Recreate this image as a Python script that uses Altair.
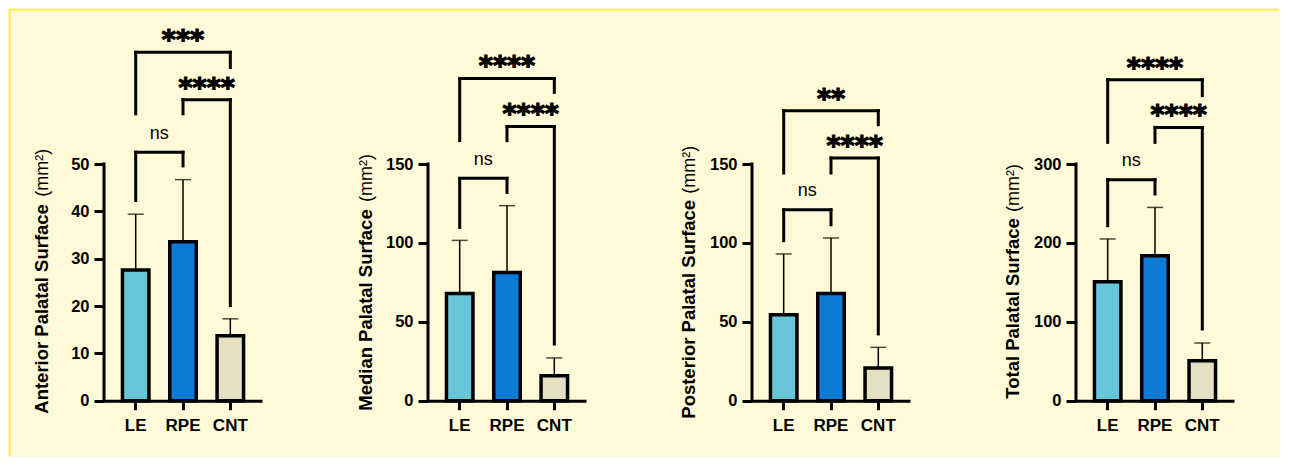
import altair as alt
import pandas as pd

# ---------------- data ----------------
groups = ["LE", "RPE", "CNT"]
bar_colors = ["#67C6D8", "#0E7BD6", "#E5E0C3"]

titles = ["Anterior Palatal Surface", "Median Palatal Surface",
          "Posterior Palatal Surface", "Total Palatal Surface"]
unit_text = "(mm²)"

axis_max = [50, 150, 150, 300]
tick_step = [10, 50, 50, 100]
plot_max = [80, 240, 240, 480]

anterior_mean = [27.6, 33.6, 13.7]
anterior_top = [39.4, 46.7, 17.3]
median_mean = [68.0, 81.3, 15.8]
median_top = [101.6, 123.6, 27.1]
posterior_mean = [54.5, 68.0, 20.7]
posterior_top = [93.0, 103.1, 33.8]
total_mean = [150.8, 183.8, 50.7]
total_top = [205.0, 245.0, 73.1]

pairs = [("LE", "RPE"), ("LE", "CNT"), ("RPE", "CNT")]

anterior_labels = ["ns", "***", "****"]
anterior_bracket = [52.5, 73.6, 63.6]
anterior_leg1 = [42.3, 60.6, 60.6]
anterior_leg2 = [49.6, 70.4, 20.1]

median_labels = ["ns", "****", "****"]
median_bracket = [140.9, 204.2, 173.8]
median_leg1 = [109.8, 164.8, 164.8]
median_leg2 = [132.0, 195.4, 35.9]

posterior_labels = ["ns", "**", "****"]
posterior_bracket = [121.0, 183.8, 153.8]
posterior_leg1 = [101.4, 144.3, 144.3]
posterior_leg2 = [111.5, 174.9, 42.3]

total_labels = ["ns", "****", "****"]
total_bracket = [280.1, 406.8, 346.4]
total_leg1 = [221.8, 327.4, 327.4]
total_leg2 = [262.0, 386.6, 90.9]

# ---------------- layout / style ----------------
FONT = "Liberation Sans"
STAR_FONT = "DejaVu Sans"
BG = "#FFF9D8"
BORDER = "#FFEC4A"
W = 158
H = 378.7
HALF_STEP = 23.65
title_bottom = [391.7, 388.7, 396.7, 376.7]
unit_top = [126.7, 132.0, 123.7, 142.0]


def make_panel(idx, means, tops, labels, bracket, leg1, leg2, border=False):
    yscale = alt.Scale(domain=[0, plot_max[idx]], nice=False, zero=True)
    xscale = alt.Scale(domain=groups, paddingInner=0, paddingOuter=0.17)
    xaxis = alt.Axis(title=None, labelAngle=0, labelFont=FONT, labelFontWeight="bold",
                     labelFontSize=17, labelColor="black", labelPadding=8,
                     domainColor="black", domainWidth=3, tickColor="black",
                     tickWidth=3, tickSize=9, grid=False)
    yaxis = alt.Axis(title=None, values=list(range(0, axis_max[idx] + 1, tick_step[idx])),
                     domain=False, grid=False, tickColor="black", tickWidth=3, tickSize=10,
                     labelFont=FONT, labelFontWeight="bold", labelFontSize=16.5,
                     labelColor="black", labelPadding=5)

    def X(f):
        return alt.X(f, type="nominal", scale=xscale, axis=xaxis)

    def Y(f):
        return alt.Y(f, type="quantitative", scale=yscale, axis=yaxis)

    bars_df = pd.DataFrame({"group": groups, "mean": means, "top": tops})
    err = alt.Chart(bars_df).mark_rule(color="black", strokeWidth=1.5).encode(
        x=X("group"), y=Y("mean"), y2="top")
    caps = alt.Chart(bars_df).mark_tick(color="black", thickness=1.5, size=16,
                                        orient="horizontal").encode(x=X("group"), y=Y("top"))
    bars = alt.Chart(bars_df).mark_bar(size=26.5, stroke="black", strokeWidth=3.5).encode(
        x=X("group"), y=Y("mean"),
        color=alt.Color("group:N", scale=alt.Scale(domain=groups, range=bar_colors), legend=None))

    br_df = pd.DataFrame({"group": [p[0] for p in pairs], "group2": [p[1] for p in pairs],
                          "y": bracket, "label": labels})
    hlines = alt.Chart(br_df).mark_rule(color="black", strokeWidth=3, strokeCap="square").encode(
        x=X("group"), x2="group2", y=Y("y"))

    leg_rows = []
    for (g1, g2), yb, e1, e2 in zip(pairs, bracket, leg1, leg2):
        leg_rows.append({"group": g1, "y": yb, "end": e1})
        leg_rows.append({"group": g2, "y": yb, "end": e2})
    legs = alt.Chart(pd.DataFrame(leg_rows)).mark_rule(
        color="black", strokeWidth=3, strokeCap="square").encode(x=X("group"), y=Y("y"), y2="end")

    # labels: wide pair centred on middle group, adjacent pairs offset by half a step
    wide = br_df[(br_df.group == "LE") & (br_df.group2 == "CNT")].assign(group="RPE")
    adj = br_df[~((br_df.group == "LE") & (br_df.group2 == "CNT"))]
    adj_stars = adj[adj.label != "ns"]
    adj_ns = adj[adj.label == "ns"]
    star_kw = dict(font=STAR_FONT, fontWeight="bold", fontSize=27, color="black",
                   stroke="black", strokeWidth=1.2,
                   align="center", baseline="alphabetic", dy=-3)
    t_wide = alt.Chart(wide).mark_text(**star_kw).encode(x=X("group"), y=Y("y"), text="label:N")
    t_adj = alt.Chart(adj_stars).mark_text(dx=HALF_STEP, **star_kw).encode(
        x=X("group"), y=Y("y"), text="label:N")
    t_ns = alt.Chart(adj_ns).mark_text(font=FONT, fontSize=18, color="black", align="center",
                                       baseline="alphabetic", dy=-13.3, dx=HALF_STEP).encode(
        x=X("group"), y=Y("y"), text="label:N")

    ax_df = pd.DataFrame({"y0": [0], "y1": [axis_max[idx]]})
    yline = alt.Chart(ax_df).mark_rule(color="black", strokeWidth=3, strokeCap="square").encode(
        x=alt.value(0), y=Y("y0"), y2="y1")

    tb = alt.Chart(pd.DataFrame({"t": [titles[idx]]})).mark_text(
        angle=270, align="left", baseline="alphabetic", font=FONT, fontWeight="bold",
        fontSize=18.5, color="black").encode(
        text="t:N", x=alt.value(-56.5), y=alt.value(title_bottom[idx]))
    tu = alt.Chart(pd.DataFrame({"t": [unit_text]})).mark_text(
        angle=270, align="right", baseline="alphabetic", font=FONT, fontWeight="normal",
        fontSize=18, color="black").encode(
        text="t:N", x=alt.value(-56.5), y=alt.value(unit_top[idx]))

    layers = [err, bars, caps, hlines, legs, t_wide, t_adj, t_ns, yline, tb, tu]
    if border:
        bdf = pd.DataFrame({"k": [0]})
        vb = alt.Chart(bdf).mark_rule(color=BORDER, strokeWidth=2).encode(
            x=alt.value(-94.3), y=alt.value(-12.3), y2=alt.value(433.7))
        hb = alt.Chart(bdf).mark_rule(color=BORDER, strokeWidth=2).encode(
            x=alt.value(-94.3), x2=alt.value(1175), y=alt.value(-12.3))
        layers = [vb, hb] + layers
    return alt.layer(*layers).properties(width=W, height=H)


p1 = make_panel(0, anterior_mean, anterior_top, anterior_labels, anterior_bracket,
                anterior_leg1, anterior_leg2, border=True)
p2 = make_panel(1, median_mean, median_top, median_labels, median_bracket,
                median_leg1, median_leg2)
p3 = make_panel(2, posterior_mean, posterior_top, posterior_labels, posterior_bracket,
                posterior_leg1, posterior_leg2)
p4 = make_panel(3, total_mean, total_top, total_labels, total_bracket,
                total_leg1, total_leg2)

chart = alt.hconcat(p1, p2, p3, p4, spacing=166, bounds="flush").properties(
    background=BG, padding=0).configure_view(strokeWidth=0)

chart.save("out.html", embed_options={"renderer": "svg", "actions": False})
